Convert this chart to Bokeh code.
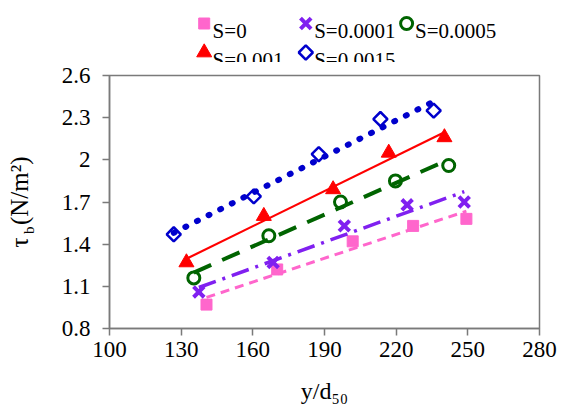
import math
import numpy as np
from bokeh.plotting import figure
from bokeh.layouts import column
from bokeh.models import Range1d, FixedTicker, LinearAxis
from bokeh.core.properties import value
from bokeh.embed import file_html
from bokeh.resources import INLINE

# ---- data ----
series_names = ["S=0", "S=0.0001", "S=0.0005", "S=0.001", "S=0.0015"]
x_s0 = [140.6, 170.2, 201.8, 227.1, 249.4]
y_s0 = [0.97, 1.22, 1.42, 1.53, 1.58]
x_s1 = [137.4, 168.5, 198.3, 224.6, 248.5]
y_s1 = [1.06, 1.27, 1.53, 1.68, 1.70]
x_s5 = [135.3, 166.7, 196.7, 219.7, 242.0]
y_s5 = [1.16, 1.46, 1.70, 1.85, 1.96]
x_s10 = [132.2, 164.6, 193.6, 216.9, 240.2]
y_s10 = [1.27, 1.60, 1.79, 2.05, 2.16]
x_s15 = [126.9, 160.4, 187.6, 213.4, 235.7]
y_s15 = [1.47, 1.74, 2.04, 2.29, 2.35]

x_ticks = [100, 130, 160, 190, 220, 250, 280]
y_ticks = [0.8, 1.1, 1.4, 1.7, 2.0, 2.3, 2.6]
y_tick_labels = ["0.8", "1.1", "1.4", "1.7", "2", "2.3", "2.6"]
x_title = "y/d₅₀"
y_title_main = "τ\u00a0\u00a0(N/m²)"          # tau, room for the subscript, unit
y_title_sub = "b" + "\u00a0" * 15              # subscript b, padded to sit after tau

FONT = "Liberation Serif"
GRAY = "#7a7a7a"
W, H = 563, 416
TOP_H = 62      # strip holding the legend

styles = [
    dict(x=x_s0, y=y_s0, marker="square", size=11, fill="#ff66cc", line="#ff66cc", lw=1,
         angle=0, tcolor="#ff66cc", tdash="9 6", tw=3),
    dict(x=x_s1, y=y_s1, marker="x", size=15, fill="#8020f0", line="#8020f0", lw=4,
         angle=0, tcolor="#8020f0", tdash="18 7 3 7", tw=3.5),
    dict(x=x_s5, y=y_s5, marker="circle", size=12, fill=None, line="#006400", lw=3,
         angle=0, tcolor="#006400", tdash="19 12", tw=4),
    dict(x=x_s10, y=y_s10, marker="triangle", size=15, fill="#ff0000", line="#ff0000", lw=1,
         angle=0, tcolor="#ff0000", tdash="solid", tw=2.2),
    dict(x=x_s15, y=y_s15, marker="square", size=10, fill=None, line="#0000cc", lw=2.5,
         angle=math.pi / 4, tcolor="#0000cc", tdash="1 12", tw=6),
]

# ---- legend strip (pixel coordinates, y downwards) ----
top = figure(width=W, height=TOP_H, x_range=Range1d(0, W), y_range=Range1d(TOP_H, 0),
             output_backend="svg", toolbar_location=None, x_axis_type=None,
             y_axis_type=None, min_border=0)
top.grid.visible = False
top.outline_line_color = None
top.background_fill_color = "white"
top.border_fill_color = "white"
leg_cols = [124, 257, 389]
leg_rows = [23, 52]
for i, (name, st) in enumerate(zip(series_names, styles)):
    cx = leg_cols[i % 3]
    cy = leg_rows[i // 3]
    top.scatter([cx], [cy], marker=st["marker"], size=st["size"], angle=st["angle"],
                fill_color=st["fill"], line_color=st["line"], line_width=st["lw"])
    top.text(x=[cx + 11], y=[cy + 7], text=[name], text_font=value(FONT),
             text_font_size="21px", text_color="black", text_align="left",
             text_baseline="alphabetic")

# ---- main chart ----
p = figure(width=W, height=H - TOP_H, x_range=Range1d(100, 280),
           y_range=Range1d(0.8, 2.6), output_backend="svg", toolbar_location=None,
           min_border_left=109, min_border_right=24, min_border_top=75 - TOP_H,
           min_border_bottom=88)
p.grid.visible = False
p.outline_line_color = GRAY
p.outline_line_width = 1.5
p.background_fill_color = "white"
p.border_fill_color = "white"

for ax in (p.xaxis[0], p.yaxis[0]):
    ax.axis_line_color = GRAY
    ax.axis_line_width = 1.5
    ax.major_tick_line_color = GRAY
    ax.major_tick_line_width = 1.5
    ax.minor_tick_line_color = None
    ax.major_tick_in = 0
    ax.major_tick_out = 7
    ax.minor_tick_out = 0
    ax.major_label_text_font = FONT
    ax.major_label_text_font_size = "23px"
    ax.major_label_text_color = "black"

p.xaxis[0].ticker = FixedTicker(ticks=x_ticks)
p.xaxis[0].major_label_standoff = 6
p.xaxis[0].axis_label = x_title
p.xaxis[0].axis_label_text_font = FONT
p.xaxis[0].axis_label_text_font_size = "24px"
p.xaxis[0].axis_label_text_font_style = "normal"
p.xaxis[0].axis_label_text_color = "black"
p.xaxis[0].axis_label_standoff = 18

p.yaxis[0].ticker = FixedTicker(ticks=y_ticks)
p.yaxis[0].major_label_overrides = {t: l for t, l in zip(y_ticks, y_tick_labels)}
p.yaxis[0].major_label_standoff = 12
# subscript "b" of the y title, as the main axis' own label
p.yaxis[0].axis_label = y_title_sub
p.yaxis[0].axis_label_text_font = FONT
p.yaxis[0].axis_label_text_font_size = "15px"
p.yaxis[0].axis_label_text_font_style = "normal"
p.yaxis[0].axis_label_text_color = "black"
p.yaxis[0].axis_label_standoff = 22

# "tau (N/m²)" as the label of a bare outer axis
title_axis = LinearAxis(ticker=FixedTicker(ticks=[]), axis_line_color=None,
                        major_tick_line_color=None, minor_tick_line_color=None,
                        major_tick_out=0, minor_tick_out=0, major_tick_in=0,
                        minor_tick_in=0, major_label_standoff=0,
                        axis_label=y_title_main, axis_label_text_font=FONT,
                        axis_label_text_font_size="25px",
                        axis_label_text_font_style="normal",
                        axis_label_text_color="black", axis_label_standoff=-15)
p.add_layout(title_axis, "left")

for name, st in zip(series_names, styles):
    xs = np.array(st["x"])
    ys = np.array(st["y"])
    slope, icpt = np.polyfit(xs, ys, 1)
    lx = [xs.min(), xs.max()]
    ly = [slope * v + icpt for v in lx]
    p.line(lx, ly, line_color=st["tcolor"], line_width=st["tw"], line_dash=st["tdash"],
           line_cap="round" if st["tdash"] == "1 12" else "butt")
    p.scatter(xs, ys, marker=st["marker"], size=st["size"], angle=st["angle"],
              fill_color=st["fill"], line_color=st["line"], line_width=st["lw"])

layout = column(top, p, spacing=0)
open("out.html", "w").write(file_html(layout, INLINE))
